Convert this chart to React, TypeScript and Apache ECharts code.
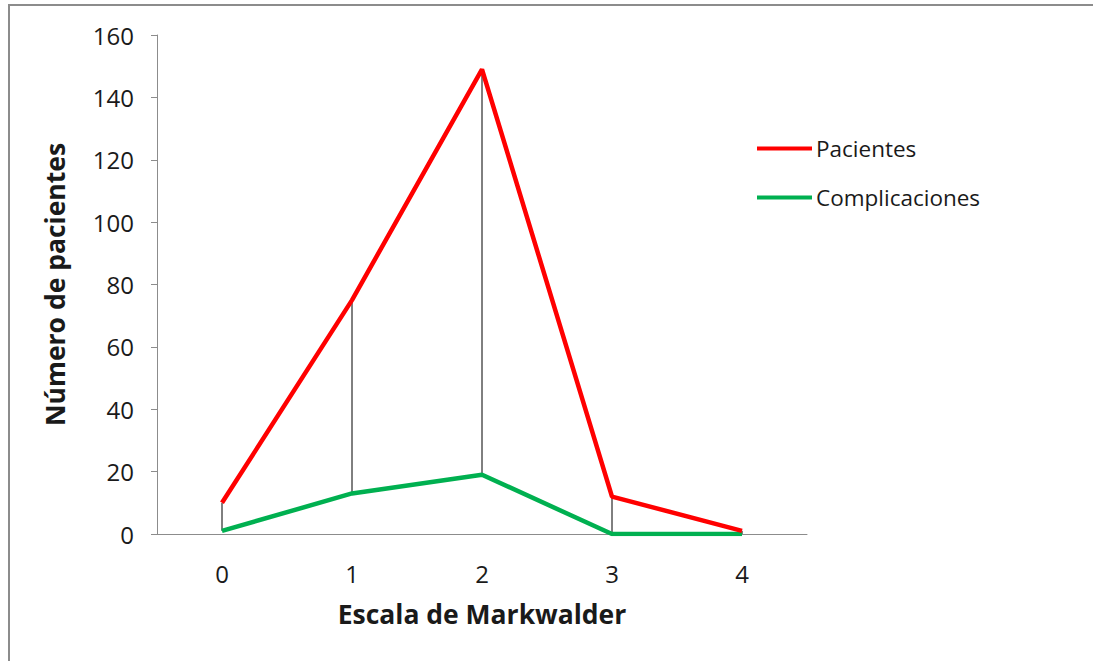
import React, { useEffect, useRef } from "react";
import * as echarts from "echarts";

const categories = ["0", "1", "2", "3", "4"];
const pacientes = [10, 75, 149, 12, 1];
const complicaciones = [1, 13, 19, 0, 0];

const FONT = "'Open Sans', sans-serif";

export default function App() {
  const ref = useRef<HTMLDivElement>(null);

  useEffect(() => {
    if (!ref.current) return;
    const chart = echarts.init(ref.current, undefined, { renderer: "svg" });

    // high-low connector between the two series at each category
    const dropData = categories.map((_, i) => [i, pacientes[i], complicaciones[i]]);

    chart.setOption({
      animation: false,
      backgroundColor: "#ffffff",
      textStyle: { fontFamily: FONT },
      graphic: [
        {
          type: "rect",
          shape: { x: 9, y: 5, width: 1200, height: 800 },
          style: { fill: "none", stroke: "#8c8c8c", lineWidth: 2 },
          silent: true,
        },
      ],
      grid: { left: 157, right: 286, top: 35, bottom: 127 },
      legend: {
        orient: "vertical",
        left: 752,
        top: 132,
        itemWidth: 55,
        itemHeight: 4,
        itemGap: 26,
        icon: "rect",
        textStyle: { fontSize: 22.5, color: "#1a1a1a", fontFamily: FONT, padding: [0, 0, 0, -1] },
        data: ["Pacientes", "Complicaciones"],
      },
      xAxis: {
        type: "category",
        data: categories,
        boundaryGap: true,
        axisLine: { lineStyle: { color: "#8c8c8c", width: 1 } },
        axisTick: { show: false },
        axisLabel: { fontSize: 24, color: "#1a1a1a", margin: 27 },
        name: "Escala de Markwalder",
        nameLocation: "middle",
        nameGap: 66,
        nameTextStyle: { fontSize: 26.5, fontWeight: "bold", color: "#1a1a1a" },
      },
      yAxis: {
        type: "value",
        min: 0,
        max: 160,
        interval: 20,
        splitLine: { show: false },
        axisLine: { show: true, lineStyle: { color: "#8c8c8c", width: 1 } },
        axisTick: { show: true, length: 6, lineStyle: { color: "#8c8c8c" } },
        axisLabel: { fontSize: 24, color: "#1a1a1a", margin: 23 },
        name: "Número de pacientes",
        nameLocation: "middle",
        nameGap: 89,
        nameTextStyle: { fontSize: 26.5, fontWeight: "bold", color: "#1a1a1a" },
      },
      series: [
        {
          type: "custom",
          name: "drop",
          data: dropData,
          z: 1,
          renderItem: (params: any, api: any) => {
            const x = api.value(0);
            const top = api.coord([x, api.value(1)]);
            const bot = api.coord([x, api.value(2)]);
            return {
              type: "line",
              shape: { x1: top[0], y1: top[1], x2: bot[0], y2: bot[1] },
              style: { stroke: "#000000", lineWidth: 1 },
            };
          },
          silent: true,
        },
        {
          type: "line",
          name: "Pacientes",
          data: pacientes,
          z: 3,
          symbol: "none",
          color: "#ff0000",
          lineStyle: { color: "#ff0000", width: 4.5 },
        },
        {
          type: "line",
          name: "Complicaciones",
          data: complicaciones,
          z: 2,
          symbol: "none",
          color: "#00b050",
          lineStyle: { color: "#00b050", width: 4.5 },
        },
      ],
    });

    return () => chart.dispose();
  }, []);

  return (
    <div
      ref={ref}
      style={{ position: "fixed", left: 0, top: 0, width: 1093, height: 661 }}
    />
  );
}
